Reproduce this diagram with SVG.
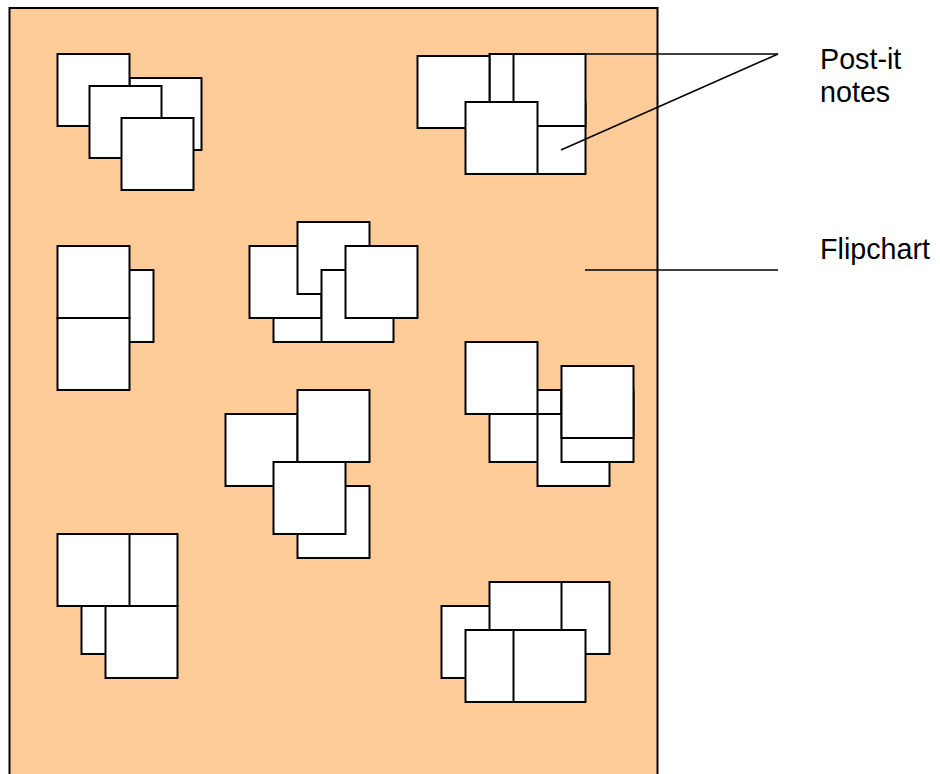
<svg xmlns="http://www.w3.org/2000/svg" width="940" height="774" viewBox="0 0 940 774">
<style>
.board{fill:#FFCC99;stroke:#000;stroke-width:2}
.note{fill:#FFFFFF;stroke:#000;stroke-width:2}
.lead{stroke:#000;stroke-width:1.5;fill:none}
.lbl{font-family:"Liberation Sans",Arial,sans-serif;font-size:28.7px;fill:#000}
</style>
<rect width="940" height="774" fill="#FFFFFF"/>
<g id="flipchart"><rect class="board" x="9.5" y="8" width="648" height="780"/></g>
<g id="cluster1">
<rect class="note" x="129.5" y="78" width="72" height="72"/>
<rect class="note" x="57.5" y="54" width="72" height="72"/>
<rect class="note" x="89.5" y="86" width="72" height="72"/>
<rect class="note" x="121.5" y="118" width="72" height="72"/>
</g>
<g id="cluster2">
<rect class="note" x="489.5" y="54" width="72" height="72"/>
<rect class="note" x="513.5" y="102" width="72" height="72"/>
<rect class="note" x="417.5" y="56" width="72" height="72"/>
<rect class="note" x="513.5" y="54" width="72" height="72"/>
<rect class="note" x="465.5" y="102" width="72" height="72"/>
</g>
<g id="cluster3">
<rect class="note" x="81.5" y="270" width="72" height="72"/>
<rect class="note" x="57.5" y="246" width="72" height="72"/>
<rect class="note" x="57.5" y="318" width="72" height="72"/>
</g>
<g id="cluster4">
<rect class="note" x="273.5" y="270" width="72" height="72"/>
<rect class="note" x="249.5" y="246" width="72" height="72"/>
<rect class="note" x="297.5" y="222" width="72" height="72"/>
<rect class="note" x="321.5" y="270" width="72" height="72"/>
<rect class="note" x="345.5" y="246" width="72" height="72"/>
</g>
<g id="cluster5">
<rect class="note" x="489.5" y="390" width="72" height="72"/>
<rect class="note" x="465.5" y="342" width="72" height="72"/>
<rect class="note" x="537.5" y="414" width="72" height="72"/>
<rect class="note" x="561.5" y="390" width="72" height="72"/>
<rect class="note" x="561.5" y="366" width="72" height="72"/>
</g>
<g id="cluster6">
<rect class="note" x="225.5" y="414" width="72" height="72"/>
<rect class="note" x="297.5" y="390" width="72" height="72"/>
<rect class="note" x="297.5" y="486" width="72" height="72"/>
<rect class="note" x="273.5" y="462" width="72" height="72"/>
</g>
<g id="cluster7">
<rect class="note" x="81.5" y="582" width="72" height="72"/>
<rect class="note" x="105.5" y="534" width="72" height="72"/>
<rect class="note" x="57.5" y="534" width="72" height="72"/>
<rect class="note" x="105.5" y="606" width="72" height="72"/>
</g>
<g id="cluster8">
<rect class="note" x="441.5" y="606" width="72" height="72"/>
<rect class="note" x="537.5" y="582" width="72" height="72"/>
<rect class="note" x="489.5" y="582" width="72" height="72"/>
<rect class="note" x="465.5" y="630" width="72" height="72"/>
<rect class="note" x="513.5" y="630" width="72" height="72"/>
</g>
<g id="connectors">
<line class="lead" x1="490" y1="54" x2="778" y2="54"/>
<line class="lead" x1="561" y1="150" x2="778" y2="54"/>
<line class="lead" x1="585" y1="270" x2="778" y2="270"/>
</g>
<g id="labels">
<text class="lbl" x="820" y="69">Post-it</text>
<text class="lbl" x="820" y="102">notes</text>
<text class="lbl" x="820" y="259">Flipchart</text>
</g>
</svg>
